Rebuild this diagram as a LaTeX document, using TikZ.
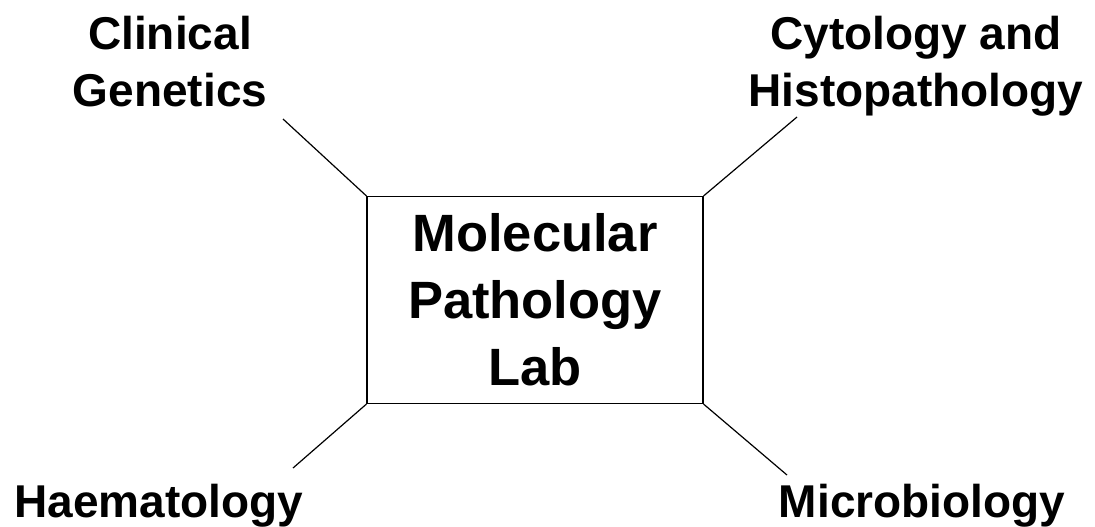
\documentclass[tikz,border=0pt]{standalone}
\usepackage{fontspec}
\setmainfont{Liberation Sans}
\usepackage{tikz}

\tikzset{
    lbl/.style={font=\bfseries\fontsize{23}{28.5}\selectfont, align=center, inner sep=0pt},
    labbox/.style={draw, line width=0.6pt, minimum width=168pt, minimum height=103.5pt,
        inner sep=0pt, align=center, font=\bfseries\fontsize{26.25}{33.5}\selectfont}
}

\begin{document}
\begin{tikzpicture}[x=0.5pt, y=-0.5pt, line width=0.6pt]
    \useasboundingbox (0,0) rectangle (1095,526);

    \node[labbox] (lab) at (535,300) {Molecular\\Pathology\\Lab};

    \node[lbl, anchor=north] (gen) at (170,16) {Clinical\\Genetics};
    \node[lbl, anchor=north] (cyt) at (916,16) {Cytology and\\Histopathology};
    \node[lbl, anchor=base] (hae) at (159,517) {Haematology};
    \node[lbl, anchor=base] (mic) at (922,517) {Microbiology};

    % free ends of the spokes
    \coordinate (gen-end) at (283,119);
    \coordinate (cyt-end) at (797,117);
    \coordinate (hae-end) at (293,468);
    \coordinate (mic-end) at (787,475);

    \foreach \c/\e in {north west/gen, north east/cyt, south west/hae, south east/mic}
        \draw (lab.\c) -- (\e-end);
\end{tikzpicture}
\end{document}
